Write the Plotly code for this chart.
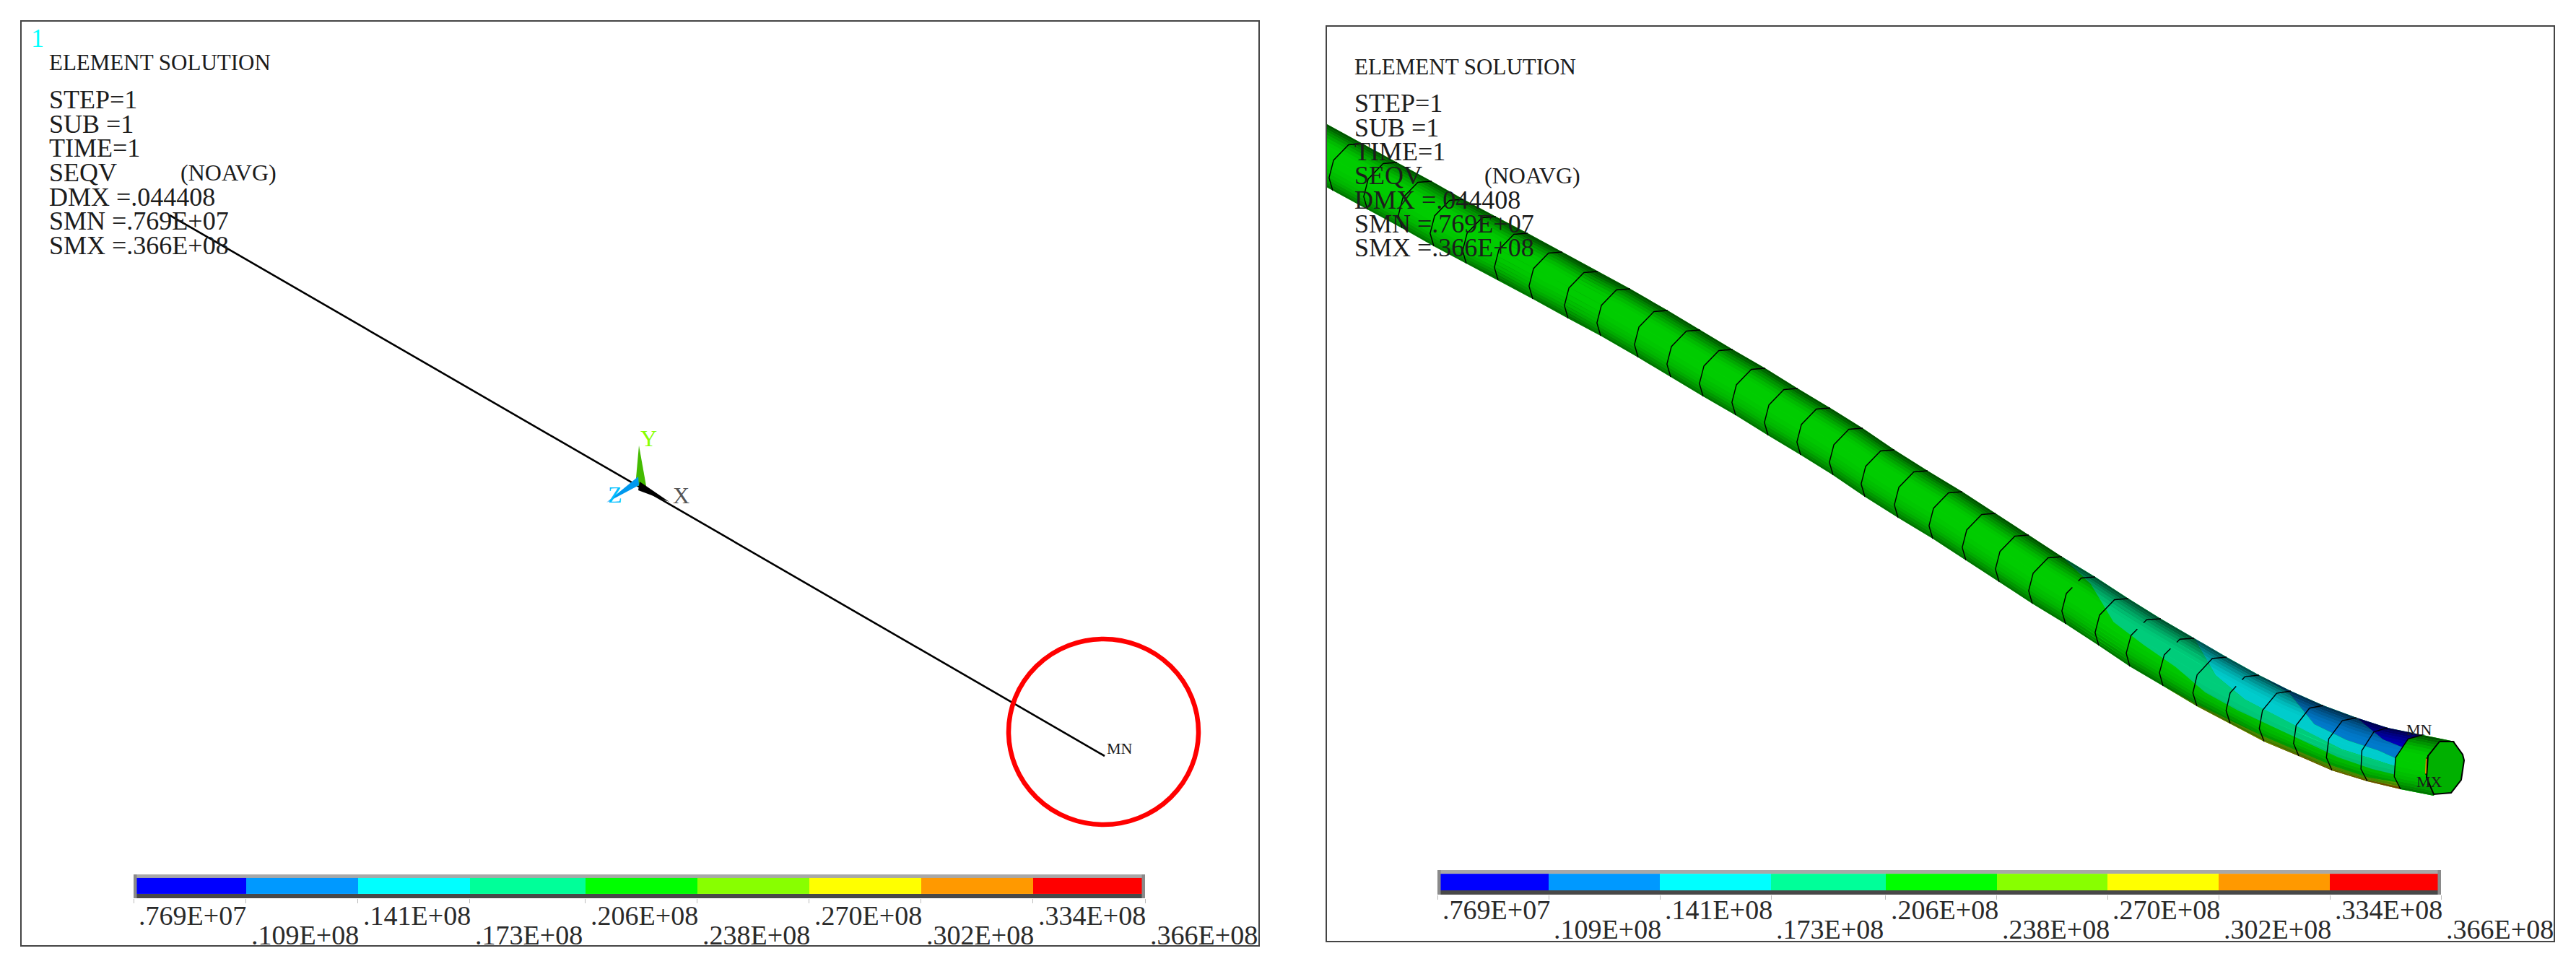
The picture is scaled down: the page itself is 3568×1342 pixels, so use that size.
import plotly.graph_objects as go

W, H = 3568, 1342

# ---- data ----
levels = [7690000, 10900000, 14100000, 17300000, 20600000, 23800000, 27000000, 30200000, 33400000, 36600000]
level_labels = [".769E+07", ".109E+08", ".141E+08", ".173E+08", ".206E+08",
                ".238E+08", ".270E+08", ".302E+08", ".334E+08", ".366E+08"]
band_colors = ["#0000ff", "#0099ff", "#00ffff", "#00ff99", "#00ff00", "#88ff00", "#ffff00", "#ff9900", "#ff0000"]
band_index = [0, 1, 2, 3, 4, 5, 6, 7, 8]

info_labels = ["ELEMENT SOLUTION", "STEP=1", "SUB =1", "TIME=1", "SEQV", "DMX =.044408", "SMN =.769E+07", "SMX =.366E+08"]
info_y_left = [86, 138, 172, 205, 239, 273, 306, 340]
info_y_right = [93, 143, 177, 210, 243, 277, 310, 343]

beam_x = [235, 1530]
beam_y = [298, 1047]

triad_y_x = [885, 880, 895]
triad_y_y = [617, 673, 673]
triad_z_x = [840, 884, 885]
triad_z_y = [696, 660, 672]
triad_x_x = [884, 886, 927]
triad_x_y = [679, 667, 695]

top_x = [1838, 1887, 1935, 1983, 2027, 2072, 2116, 2164, 2213, 2258, 2310, 2355, 2400, 2445, 2490, 2535, 2580, 2624,
         2670, 2718, 2764, 2810, 2856, 2902, 2948, 2993, 3039, 3084, 3129, 3173, 3218, 3264, 3307, 3355, 3400]
top_y = [172, 199, 225, 251, 276, 300, 323, 349, 376, 400, 430, 457, 484, 510, 538, 565, 593, 623,
         652, 681, 711, 741, 771, 799, 829, 857, 884, 910, 935, 957, 977, 994, 1008, 1018, 1027]
bot_x = [1797, 1846, 1894, 1942, 1986, 2031, 2075, 2123, 2172, 2217, 2269, 2314, 2359, 2404, 2449, 2494, 2539, 2583,
         2629, 2677, 2723, 2769, 2815, 2861, 2907, 2950, 2996, 3043, 3089, 3136, 3184, 3230, 3279, 3325, 3371]
bot_y = [237, 264, 290, 316, 341, 365, 388, 414, 441, 465, 495, 522, 549, 575, 603, 630, 658, 688,
         717, 746, 776, 806, 836, 864, 894, 923, 950, 978, 1002, 1027, 1047, 1067, 1082, 1093, 1102]

# contour limits across the tube width, at the last twelve rings (0 = upper edge, 1 = lower edge)
darkblue_end = [0, 0, 0, 0, 0, 0, 0, 0, 0, 0, .22, .32]
blue_end = [0, 0, 0, 0, 0, 0, 0, .05, .37, .42, .43, .55]
cyan_end = [0, 0, 0, 0, 0, .37, .5, .5, .55, .6, .6, .65]
teal_end = [0, .15, .5, .55, .6, .72, .73, .7, .72, .75, .77, .78]
green_end = [1, 1, 1, 1, 1, .97, .95, .92, .92, .92, .93, .89]
lime_end = [1, 1, 1, 1, 1, 1, 1, .98, .98, .97, .97, .95]
yellow_end = [1, 1, 1, 1, 1, 1, 1, 1, .99, .99, .985, .97]
orange_end = [1, 1, 1, 1, 1, 1, 1, 1, 1, 1, 1, 1]

shade_t = [0, .04, .08, .12, .17, .22, .28, .34, .5, .62, .7, .76, .82, .87, .92, .96, 1]
shade_a = [.68, .6, .5, .42, .34, .27, .22, .2, .2, .22, .25, .28, .33, .4, .47, .55]

cap_x = [3379, 3398, 3411, 3413, 3409, 3395, 3371, 3361, 3363, 3379]
cap_y = [1027, 1027, 1045, 1053, 1080, 1098, 1100, 1077, 1047, 1027]
sliver_x = [3360, 3362, 3361, 3359]
sliver_y = [1050, 1050, 1072, 1072]

ring_a = [0, .15, .53, .84, 1]
ring_b = [0, .2, .28, .18, 0]
ring_gaps = [23, 25, 26, 28]

# ---- layout constants (pixels of the page) ----
P1 = (30, 1743, 30, 1309)
P2 = (1838, 3537, 37, 1303)
B1 = (185, 1586, 1211, 1244)
B2 = (1991, 3381, 1205, 1239)
FONT = "Liberation Serif"
INK = "#1c1c1c"


def dom_x(a, b):
    return [a / W, b / W]


def dom_y(a, b):
    return [1 - b / H, 1 - a / H]


def pt(i, t):
    return top_x[i] + (bot_x[i] - top_x[i]) * t, top_y[i] + (bot_y[i] - top_y[i]) * t


def ring(i):
    dx, dy = bot_x[i] - top_x[i], bot_y[i] - top_y[i]
    xs, ys = [], []
    for a, b in zip(ring_a, ring_b):
        xs.append(top_x[i] + dx * a - dy * b)
        ys.append(top_y[i] + dy * a + dx * b)
    return xs, ys


fig = go.Figure()


def poly(xs, ys, color, axis="2", line=None):
    fig.add_trace(go.Scatter(x=xs, y=ys, mode="lines", fill="toself", fillcolor=color,
                             line=dict(width=line[1], color=line[0]) if line else dict(width=0),
                             xaxis="x" + axis, yaxis="y" + axis, hoverinfo="skip", showlegend=False))


# left panel
fig.add_trace(go.Scatter(x=beam_x, y=beam_y, mode="lines", line=dict(color="#000000", width=2.6),
                         xaxis="x", yaxis="y", hoverinfo="skip", showlegend=False))
poly(triad_y_x, triad_y_y, "#44bb00", "")
poly(triad_z_x, triad_z_y, "#0099ee", "")
poly(triad_x_x, triad_x_y, "#000000", "")

# right panel: tube
n = len(top_x)
px = top_x + bot_x[::-1]
py = top_y + bot_y[::-1]
poly(px, py, "#00ff00")

first = n - 1 - 12
layers = [(None, darkblue_end, 0), (darkblue_end, blue_end, 1), (blue_end, cyan_end, 2), (cyan_end, teal_end, 3),
          (green_end, lime_end, 5), (lime_end, yellow_end, 6), (yellow_end, orange_end, 7)]
for lo, hi, k in layers:
    xs, ys = [], []
    for j in range(12):
        x, y = pt(first + j, lo[j] if lo else 0)
        xs.append(x)
        ys.append(y)
    for j in range(11, -1, -1):
        x, y = pt(first + j, hi[j])
        xs.append(x)
        ys.append(y)
    poly(xs, ys, band_colors[k])

# last, uniformly green element (its near edge follows the bulging ring)
rx, ry = ring(n - 2)
poly(rx + [bot_x[-1], top_x[-1]], ry + [bot_y[-1], top_y[-1]], "#00ff00")

# shading across the width of the tube
for q in range(len(shade_a)):
    t0, t1 = shade_t[q], shade_t[q + 1]
    xs = [pt(i, t0)[0] for i in range(n)] + [pt(i, t1)[0] for i in range(n - 1, -1, -1)]
    ys = [pt(i, t0)[1] for i in range(n)] + [pt(i, t1)[1] for i in range(n - 1, -1, -1)]
    poly(xs, ys, f"rgba(0,0,0,{shade_a[q]})")

# element rings
lx, ly = [], []
for i in range(n - 1):
    xs, ys = ring(i)
    if i in ring_gaps:
        fa, fb = .2, .6
        mx0, my0 = xs[1] + (xs[2] - xs[1]) * fa, ys[1] + (ys[2] - ys[1]) * fa
        mx1, my1 = xs[1] + (xs[2] - xs[1]) * fb, ys[1] + (ys[2] - ys[1]) * fb
        lx += xs[:2] + [mx0, None, mx1] + xs[2:] + [None]
        ly += ys[:2] + [my0, None, my1] + ys[2:] + [None]
    else:
        lx += xs + [None]
        ly += ys + [None]
fig.add_trace(go.Scatter(x=lx, y=ly, mode="lines", line=dict(color="#000000", width=1.4),
                         xaxis="x2", yaxis="y2", hoverinfo="skip", showlegend=False))
poly(cap_x, cap_y, "#00b000", "2", ("#000000", 2))
poly(sliver_x, sliver_y, "#ff9900", "2", ("#000000", 1))

# colour bars
for ax in ("3", "4"):
    fig.add_trace(go.Heatmap(x=levels, y=[.18, .85], z=[band_index], zmin=0, zmax=8, showscale=False,
                             colorscale=[[v, c] for i, c in enumerate(band_colors) for v in (i / 9, (i + 1) / 9)],
                             xaxis="x" + ax, yaxis="y" + ax, hoverinfo="skip"))

shapes = [dict(type="circle", xref="x", yref="y", x0=1397, x1=1660, y0=885, y1=1142,
               line=dict(color="#ff0000", width=6.5))]
for ax in ("3", "4"):
    shapes += [
        dict(type="rect", xref="x" + ax, yref="y" + ax, x0=levels[0], x1=levels[-1], y0=.85, y1=1,
             fillcolor="#a8a8a8", line_width=0, layer="below"),
        dict(type="rect", xref="x" + ax, yref="y" + ax, x0=levels[0], x1=levels[-1], y0=0, y1=.18,
             fillcolor="#484848", line_width=0, layer="below"),
        dict(type="line", xref="x" + ax, yref="y" + ax, x0=levels[0], x1=levels[0], y0=0, y1=1,
             line=dict(color="#8a8a8a", width=9)),
        dict(type="line", xref="x" + ax, yref="y" + ax, x0=levels[-1], x1=levels[-1], y0=0, y1=1,
             line=dict(color="#8a8a8a", width=9)),
    ]

annotations = []


def text(x, y, s, xref, yref, size=36, color=INK, anchor="left", xshift=0, yshift=0):
    annotations.append(dict(x=x, y=y, text=s, xref=xref, yref=yref, showarrow=False, xanchor=anchor, yanchor="middle",
                            font=dict(family=FONT, size=size, color=color), xshift=xshift, yshift=yshift,
                            borderpad=0, borderwidth=0))


for i, s in enumerate(info_labels):
    sz = 31 if i == 0 else 36
    text(68, info_y_left[i], s, "x", "y", sz)
    text(1876, info_y_right[i], s, "x2", "y2", sz)
text(250, info_y_left[4], "(NOAVG)", "x", "y", 32)
text(2056, info_y_right[4], "(NOAVG)", "x2", "y2", 32)
text(43, 53, "1", "x", "y", 36, "#00ffff")
text(1533, 1036, "MN", "x", "y", 22)
text(3333, 1010, "MN", "x2", "y2", 22)
text(3347, 1082, "MX", "x2", "y2", 22)
text(887, 607, "Y", "x", "y", 32, "#88ff00")
text(932, 686, "X", "x", "y", 32, "#555555")
text(842, 685, "Z", "x", "y", 32, "#00bfff")

for ax, rows in (("x3", (24, 51)), ("x4", (21, 48))):
    for i, s in enumerate(level_labels):
        # rows are staggered below the bar
        text(levels[i], 0, s, ax, "y" + ax[1:], 38, "#2a2a2a", xshift=7, yshift=-rows[i % 2])

hidden = dict(showgrid=False, zeroline=False, showticklabels=False, ticks="")
frame = dict(showline=True, mirror=True, linecolor="#444444", linewidth=2)
bar_x = dict(showgrid=False, zeroline=False, showticklabels=False, ticks="outside", ticklen=6, tickwidth=1,
             tickcolor="#bbbbbb", tickvals=levels, range=[levels[0], levels[-1]])
bar_y = dict(range=[0, 1], **hidden)

fig.update_layout(
    width=W, height=H, margin=dict(l=0, r=0, t=0, b=0, pad=0), autosize=False,
    paper_bgcolor="#ffffff", plot_bgcolor="rgba(0,0,0,0)", showlegend=False,
    xaxis=dict(domain=dom_x(P1[0], P1[1]), range=[P1[0], P1[1]], anchor="y", **hidden, **frame),
    yaxis=dict(domain=dom_y(P1[2], P1[3]), range=[P1[3], P1[2]], anchor="x", **hidden, **frame),
    xaxis2=dict(domain=dom_x(P2[0], P2[1]), range=[P2[0], P2[1]], anchor="y2", **hidden, **frame),
    yaxis2=dict(domain=dom_y(P2[2], P2[3]), range=[P2[3], P2[2]], anchor="x2", **hidden, **frame),
    xaxis3=dict(domain=dom_x(B1[0], B1[1]), anchor="y3", **bar_x),
    yaxis3=dict(domain=dom_y(B1[2], B1[3]), anchor="x3", **bar_y),
    xaxis4=dict(domain=dom_x(B2[0], B2[1]), anchor="y4", **bar_x),
    yaxis4=dict(domain=dom_y(B2[2], B2[3]), anchor="x4", **bar_y),
    shapes=shapes, annotations=annotations,
)

fig.write_html("out.html", config={"displayModeBar": False}, post_script="document.body.style.margin='0';")
